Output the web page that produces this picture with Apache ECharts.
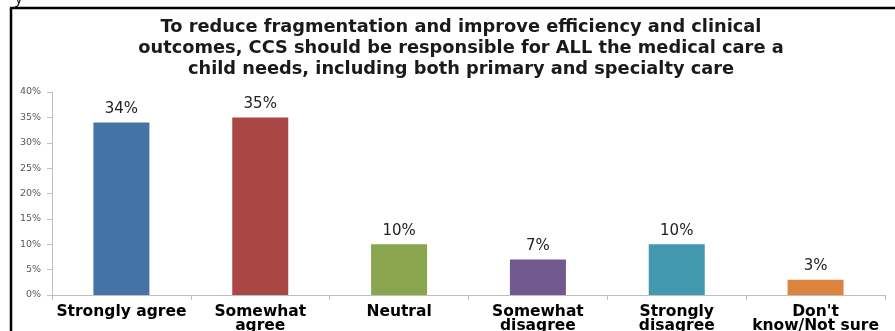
<!DOCTYPE html>
<html><head><meta charset="utf-8">
<script src="https://cdn.jsdelivr.net/npm/echarts@6/dist/echarts.min.js"></script>
<style>html,body{margin:0;padding:0;background:#fff}#c{width:895px;height:331px}</style>
</head><body><div id="c"></div>
<script>
const categories = ["Strongly agree", "Somewhat\nagree", "Neutral", "Somewhat\ndisagree", "Strongly\ndisagree", "Don't\nknow/Not sure"];
const values = [34, 35, 10, 7, 10, 3];
const barColors = ["#4572A7", "#AA4643", "#89A54E", "#71588F", "#4198AF", "#DB843D"];
const titleText = "To reduce fragmentation and improve efficiency and clinical\noutcomes, CCS should be responsible for ALL the medical care a\nchild needs, including both primary and specialty care";

const chart = echarts.init(document.getElementById('c'), null, {renderer: 'canvas'});
chart.setOption({
  animation: false,
  backgroundColor: '#fff',
  title: {
    text: titleText,
    left: 456, top: 12, textAlign: 'center',
    textStyle: {fontFamily: 'DejaVu Sans', fontWeight: 'bold', fontSize: 17.8, lineHeight: 21, color: '#1a1a1a'}
  },
  graphic: [
    {type: 'line', shape: {x1: 10, y1: 8, x2: 895, y2: 8}, style: {stroke: '#000', lineWidth: 2.5}},
    {type: 'line', shape: {x1: 11, y1: 8, x2: 11, y2: 331}, style: {stroke: '#000', lineWidth: 2.5}},
    {type: 'text', left: 15, top: -9, style: {text: 'y', fontSize: 15, fontFamily: 'Open Sans', fill: '#000'}}
  ],
  grid: {left: 52, right: 10, top: 92, bottom: 36, containLabel: false, outerBoundsMode: 'none'},
  xAxis: {
    type: 'category', data: categories,
    axisLine: {lineStyle: {color: '#BFBFBF', width: 1}},
    axisTick: {show: true, length: 5, lineStyle: {color: '#BFBFBF'}},
    axisLabel: {interval: 0, margin: 10, fontFamily: 'DejaVu Sans', fontWeight: 'bold', fontSize: 15.5, lineHeight: 14, color: '#000'}
  },
  yAxis: {
    type: 'value', min: 0, max: 40, interval: 5,
    splitLine: {show: false},
    axisLine: {show: true, lineStyle: {color: '#BFBFBF'}},
    axisTick: {show: true, length: 5, lineStyle: {color: '#BFBFBF'}},
    axisLabel: {formatter: '{value}%', fontFamily: 'DejaVu Sans', fontSize: 9.5, color: '#595959', margin: 11}
  },
  series: [{
    type: 'bar', barWidth: 56,
    data: values.map((v, i) => ({value: v, itemStyle: {color: barColors[i]}})),
    label: {show: true, position: 'top', distance: 6, formatter: '{c}%', fontFamily: 'DejaVu Sans', fontSize: 15, color: '#222'}
  }]
});
</script></body></html>
